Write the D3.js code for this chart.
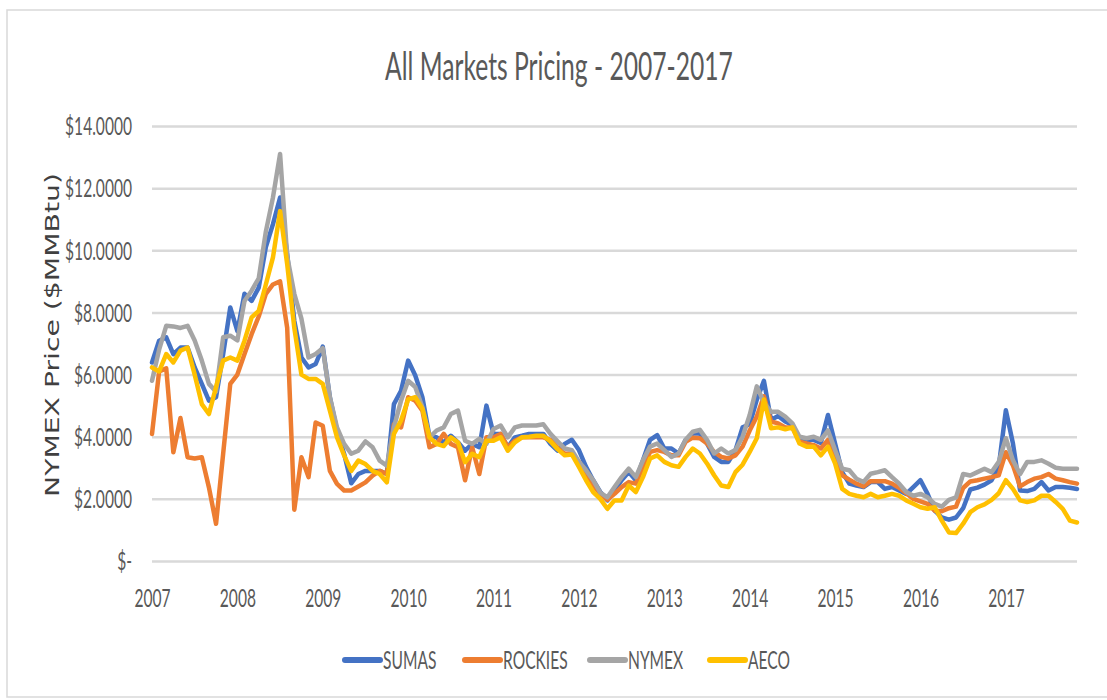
<!DOCTYPE html>
<html>
<head>
<meta charset="utf-8">
<script src="https://cdn.jsdelivr.net/npm/d3@7"></script>
<style>
  body { margin: 0; background: #fff; }
  text { font-family: Lato, "Open Sans", sans-serif; }
</style>
</head>
<body>
<div id="chart"></div>
<script>
// monthly prices, Jan 2007 .. Nov 2017
var sumas = [6.39,7.09,7.2,6.66,6.87,6.87,6.23,5.7,5.16,5.27,6.66,8.16,7.4,8.6,8.37,8.8,10.1,10.84,11.7,9.87,
  7.73,6.55,6.23,6.34,6.9,5.27,4.2,3.45,2.5,2.8,2.9,2.9,2.9,2.8,5.05,5.48,6.45,5.97,5.27,4.0,
  3.98,3.82,4.03,3.82,3.55,3.77,3.66,5.0,4.09,4.09,3.66,3.98,4.03,4.09,4.09,4.09,3.77,3.55,3.77,3.9,
  3.57,3.03,2.6,2.22,1.95,2.27,2.6,2.86,2.6,3.24,3.9,4.05,3.62,3.62,3.46,3.9,4.1,4.1,3.78,3.35,
  3.19,3.19,3.57,4.3,4.4,5.19,5.8,4.54,4.67,4.49,4.38,3.9,3.9,3.9,3.8,4.7,3.78,2.86,2.49,2.43,
  2.38,2.54,2.54,2.32,2.38,2.27,2.16,2.38,2.6,2.16,1.62,1.4,1.33,1.4,1.7,2.3,2.36,2.46,2.6,3.03,
  4.85,3.78,2.27,2.25,2.32,2.54,2.27,2.38,2.38,2.36,2.32];
var rockies = [4.09,6.1,6.2,3.5,4.6,3.34,3.3,3.34,2.37,1.2,3.45,5.7,6.0,6.66,7.3,7.87,8.6,8.9,9.0,7.5,
  1.65,3.34,2.7,4.46,4.35,2.9,2.48,2.27,2.27,2.4,2.53,2.75,2.9,2.8,4.4,4.3,5.27,5.16,4.84,3.66,
  3.77,4.09,3.77,3.66,2.6,3.66,2.8,3.98,3.98,4.09,3.66,3.87,3.98,3.98,3.98,3.98,3.9,3.65,3.45,3.46,
  3.19,2.81,2.43,2.16,1.97,2.16,2.38,2.54,2.49,3.03,3.51,3.57,3.51,3.4,3.4,3.84,3.97,3.95,3.78,3.51,
  3.35,3.3,3.4,3.68,4.2,4.65,5.3,4.49,4.43,4.3,4.3,3.84,3.78,3.73,3.62,3.9,3.4,2.76,2.62,2.49,
  2.4,2.57,2.57,2.57,2.49,2.36,2.18,2.0,1.92,1.84,1.62,1.6,1.7,1.75,2.35,2.56,2.6,2.65,2.7,2.76,
  3.5,3.08,2.4,2.54,2.65,2.7,2.8,2.65,2.6,2.54,2.49];
var nymex = [5.8,6.8,7.57,7.55,7.5,7.57,7.1,6.45,5.7,5.45,7.2,7.25,7.1,8.37,8.7,9.1,10.6,11.7,13.1,9.8,
  8.6,7.8,6.55,6.66,6.85,5.27,4.3,3.77,3.45,3.55,3.85,3.66,3.23,3.07,4.3,5.16,5.8,5.6,4.95,3.98,
  4.2,4.3,4.73,4.84,3.87,3.77,3.93,3.77,4.25,4.36,3.98,4.3,4.36,4.36,4.36,4.4,4.09,3.85,3.62,3.57,
  3.2,2.92,2.6,2.2,2.05,2.38,2.7,2.97,2.7,3.24,3.68,3.78,3.57,3.35,3.46,3.9,4.16,4.22,3.9,3.46,
  3.62,3.46,3.57,4.0,4.7,5.62,5.1,4.8,4.8,4.65,4.43,4.0,3.95,4.0,3.9,4.2,3.57,2.97,2.92,2.65,
  2.54,2.81,2.86,2.92,2.7,2.49,2.22,2.1,2.16,2.05,1.84,1.75,1.97,2.05,2.8,2.75,2.86,2.97,2.86,3.19,
  3.95,3.24,2.8,3.19,3.19,3.24,3.13,3.0,2.97,2.97,2.97];
var aeco = [6.23,6.1,6.66,6.39,6.77,6.87,6.0,5.05,4.73,5.6,6.45,6.55,6.45,7.09,7.84,8.05,8.9,9.77,11.26,9.55,
  7.5,6.0,5.86,5.86,5.7,4.84,3.98,3.4,2.9,3.23,3.12,2.9,2.8,2.53,4.09,4.52,5.2,5.27,4.9,3.98,
  3.77,3.7,3.98,3.82,3.18,3.45,3.34,3.87,3.87,3.98,3.55,3.82,3.98,4.0,4.03,4.03,3.85,3.6,3.4,3.43,
  3.03,2.6,2.22,2.0,1.68,1.95,1.95,2.43,2.22,2.7,3.3,3.4,3.19,3.08,3.03,3.35,3.62,3.46,3.14,2.76,
  2.43,2.38,2.86,3.1,3.51,3.95,5.2,4.27,4.3,4.24,4.3,3.78,3.68,3.68,3.4,3.68,3.14,2.32,2.16,2.1,
  2.05,2.16,2.05,2.1,2.16,2.1,1.95,1.84,1.73,1.68,1.73,1.3,0.92,0.9,1.2,1.57,1.73,1.82,1.97,2.18,
  2.6,2.32,1.95,1.9,1.95,2.1,2.1,1.9,1.68,1.3,1.24];

var seriesNames = ["SUMAS", "ROCKIES", "NYMEX", "AECO"];
var seriesColors = ["#4472C4", "#ED7D31", "#A5A5A5", "#FFC000"];
var years = [2007, 2008, 2009, 2010, 2011, 2012, 2013, 2014, 2015, 2016, 2017];
var yTicks = [0, 2, 4, 6, 8, 10, 12, 14];

var width = 1107, height = 700;
var textGrey = "#595959", gridGrey = "#d9d9d9";

var svg = d3.select("#chart").append("svg")
  .attr("width", width)
  .attr("height", height);

// outer chart frame
svg.append("rect")
  .attr("x", 7).attr("y", 10)
  .attr("width", 1110).attr("height", 687)
  .style("fill", "none")
  .style("stroke", gridGrey)
  .style("stroke-width", 1.5);

var x = d3.scaleLinear().domain([0, sumas.length - 1]).range([152, 1077]);
var y = d3.scaleLinear().domain([0, 14]).range([561, 126]);

//measure a string at a given font so the labels can be squeezed to the target width
var dummy = svg.append("text").attr("id", "dummy").style("opacity", 0);
function textWidth(str, size, weight) {
  dummy.style("font-size", size + "px").style("font-weight", weight || 400).text(str);
  return dummy.node().getComputedTextLength();
}

///////////////////////////////// title //////////////////////////////////
//the picture is pulled tall, so all text is squeezed sideways to the widths seen there
var titleSize = 22;
var titleSx = 348 / textWidth("All Markets Pricing - 2007-2017", titleSize, 400);
svg.append("text")
  .attr("transform", "translate(559,80) scale(" + titleSx + "," + (titleSx * 1.55) + ")")
  .attr("text-anchor", "middle")
  .style("font-size", titleSize + "px")
  .style("font-weight", 400)
  .style("fill", textGrey)
  .text("All Markets Pricing - 2007-2017");

///////////////////////////////// grid + y axis ///////////////////////////
var fmt = function(d) { return d === 0 ? "$-" : "$" + d.toFixed(4); };
var tickSize = 16;
var tickSx = 67 / textWidth("$14.0000", tickSize);
var tickSy = 17.5 / (0.72 * tickSize);

var yAxis = svg.append("g")
  .attr("transform", "translate(152,0)")
  .call(d3.axisLeft(y).tickValues(yTicks).tickSize(-(1077 - 152)).tickPadding(0).tickFormat(fmt));
yAxis.select(".domain").remove();
yAxis.selectAll(".tick line").style("stroke", gridGrey).style("stroke-width", 2.5);
yAxis.selectAll(".tick text")
  .attr("x", 0)
  .attr("dy", "0.36em")
  .attr("transform", "translate(-20,0) scale(" + tickSx + "," + tickSy + ")")
  .style("font-family", "Lato, sans-serif")
  .style("font-size", tickSize + "px")
  .style("fill", textGrey);

svg.append("text")
  .attr("transform", "translate(52,335) scale(1,1.45) rotate(-90)")
  .attr("text-anchor", "middle")
  .attr("dy", "0.36em")
  .style("font-family", "'DejaVu Sans', sans-serif")
  .style("font-size", "19.5px")
  .style("fill", "#404040")
  .text("NYMEX Price ($MMBtu)");

///////////////////////////////// x axis //////////////////////////////////
var xAxis = svg.append("g")
  .attr("transform", "translate(0,598)")
  .call(d3.axisBottom(x).tickValues(years.map(function(d, i) { return i * 12; }))
    .tickSize(0).tickPadding(0)
    .tickFormat(function(d, i) { return years[i]; }));
xAxis.select(".domain").remove();
xAxis.selectAll(".tick text")
  .attr("y", 0)
  .attr("dy", "0.36em")
  .attr("transform", "scale(" + tickSx + "," + tickSy + ")")
  .style("font-family", "Lato, sans-serif")
  .style("font-size", tickSize + "px")
  .style("fill", textGrey);

///////////////////////////////// lines ///////////////////////////////////
var allSeries = [sumas, rockies, nymex, aeco];
var line = d3.line()
  .x(function(d, i) { return x(i); })
  .y(function(d) { return y(d); });

svg.selectAll(".series")
  .data(allSeries)
  .enter().append("path")
  .attr("class", "series")
  .attr("d", line)
  .style("fill", "none")
  .style("stroke", function(d, i) { return seriesColors[i]; })
  .style("stroke-width", 4.5)
  .style("stroke-linejoin", "round")
  .style("stroke-linecap", "round");

///////////////////////////////// legend //////////////////////////////////
var legendX = [345, 465, 590, 710];
var legend = svg.selectAll(".legend")
  .data(seriesNames)
  .enter().append("g")
  .attr("class", "legend")
  .attr("transform", function(d, i) { return "translate(" + legendX[i] + ",660)"; });
legend.append("line")
  .attr("x1", 0).attr("x2", 35)
  .style("stroke", function(d, i) { return seriesColors[i]; })
  .style("stroke-width", 6)
  .style("stroke-linecap", "round");
legend.append("text")
  .attr("x", 0).attr("dy", "0.36em")
  .attr("transform", "translate(38,0) scale(" + tickSx + "," + tickSy + ")")
  .style("font-size", tickSize + "px")
  .style("fill", textGrey)
  .text(function(d) { return d; });

dummy.remove();
</script>
</body>
</html>
